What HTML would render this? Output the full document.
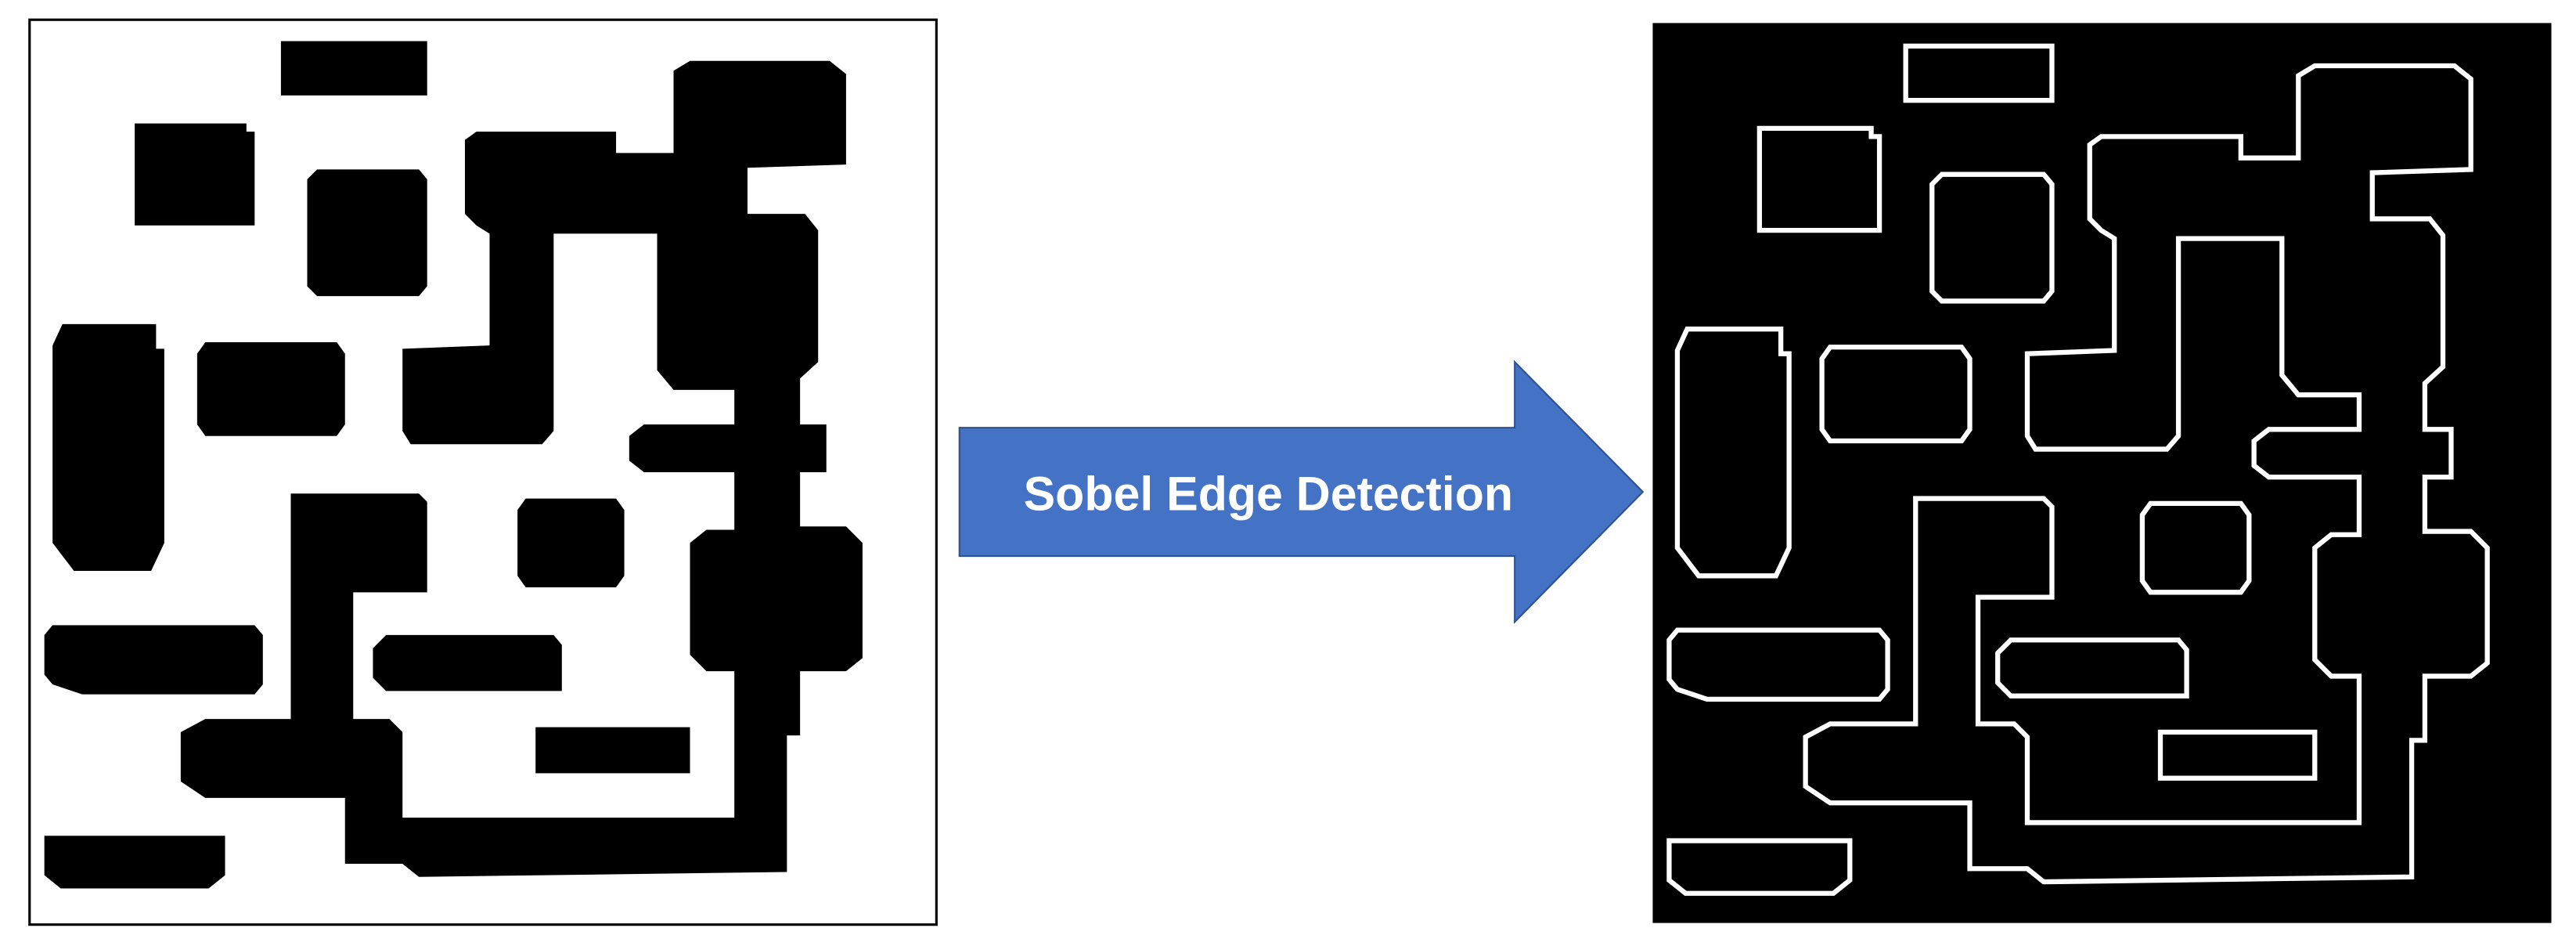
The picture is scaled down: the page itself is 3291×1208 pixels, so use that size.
<!DOCTYPE html>
<html><head><meta charset="utf-8"><style>
html,body{margin:0;padding:0;background:#fff;width:3291px;height:1208px;overflow:hidden}
svg{display:block}
</style></head><body>
<svg width="3291" height="1208" viewBox="0 0 1568 575" preserveAspectRatio="none" xmlns="http://www.w3.org/2000/svg">
<defs>
<g id="shapes">
<rect x="171" y="25" width="89" height="33"/>
<polygon points="82,75 150,75 150,80 155,80 155,137 82,137"/>
<polygon points="193,103 255,103 260,109 260,174 255,180 193,180 187,174 187,109"/>
<polygon points="283,85 290,80 375,80 375,93 410,93 410,43 420,37 505,37 515,45 515,100 455,102 455,130 490,130 498,140 498,220 487,230 487,258 503,258 503,287 487,287 487,320 515,320 525,330 525,400 515,408 487,408 487,447 479,447 479,530 255,533 245,525 210,525 210,485 125,485 110,475 110,445 125,437 177,437 177,300 255,300 260,305 260,360 215,360 215,437 237,437 245,445 245,497 447,497 447,408 430,408 420,398 420,330 430,322 447,322 447,287 392,287 383,280 383,265 392,258 447,258 447,237 410,237 400,225 400,142 337,142 337,262 330,270 250,270 245,262 245,212 298,210 298,142 290,137 283,130"/>
<polygon points="38,197 95,197 95,212 100,212 100,330 92,347 45,347 32,330 32,210"/>
<polygon points="125,208 205,208 210,215 210,258 205,265 125,265 120,258 120,215"/>
<polygon points="320,303 375,303 380,310 380,350 375,357 320,357 315,350 315,310"/>
<polygon points="32,380 155,380 160,386 160,416 155,422 50,422 32,416 27,410 27,386"/>
<polygon points="235,386 337,386 342,392 342,420 235,420 227,412 227,394"/>
<rect x="326" y="442" width="94" height="28"/>
<polygon points="27,508 137,508 137,532 127,540 37,540 27,532"/>
</g>
</defs>
<rect x="18" y="12" width="552" height="550" fill="#fff" stroke="#000" stroke-width="1.5"/>
<use href="#shapes" fill="#000"/>
<rect x="1006" y="14" width="547" height="547" fill="#000"/>
<use href="#shapes" fill="none" stroke="#fff" stroke-width="3" transform="translate(989,3)"/>
<polygon points="584,260 922,260 922,220 1000,299 922,378 922,338 584,338" fill="#4472c4" stroke="#2f528f" stroke-width="1"/>
<text x="772" y="310" text-anchor="middle" font-family="Liberation Sans, sans-serif" font-weight="bold" font-size="29" fill="#fff">Sobel Edge Detection</text>
</svg>
</body></html>
